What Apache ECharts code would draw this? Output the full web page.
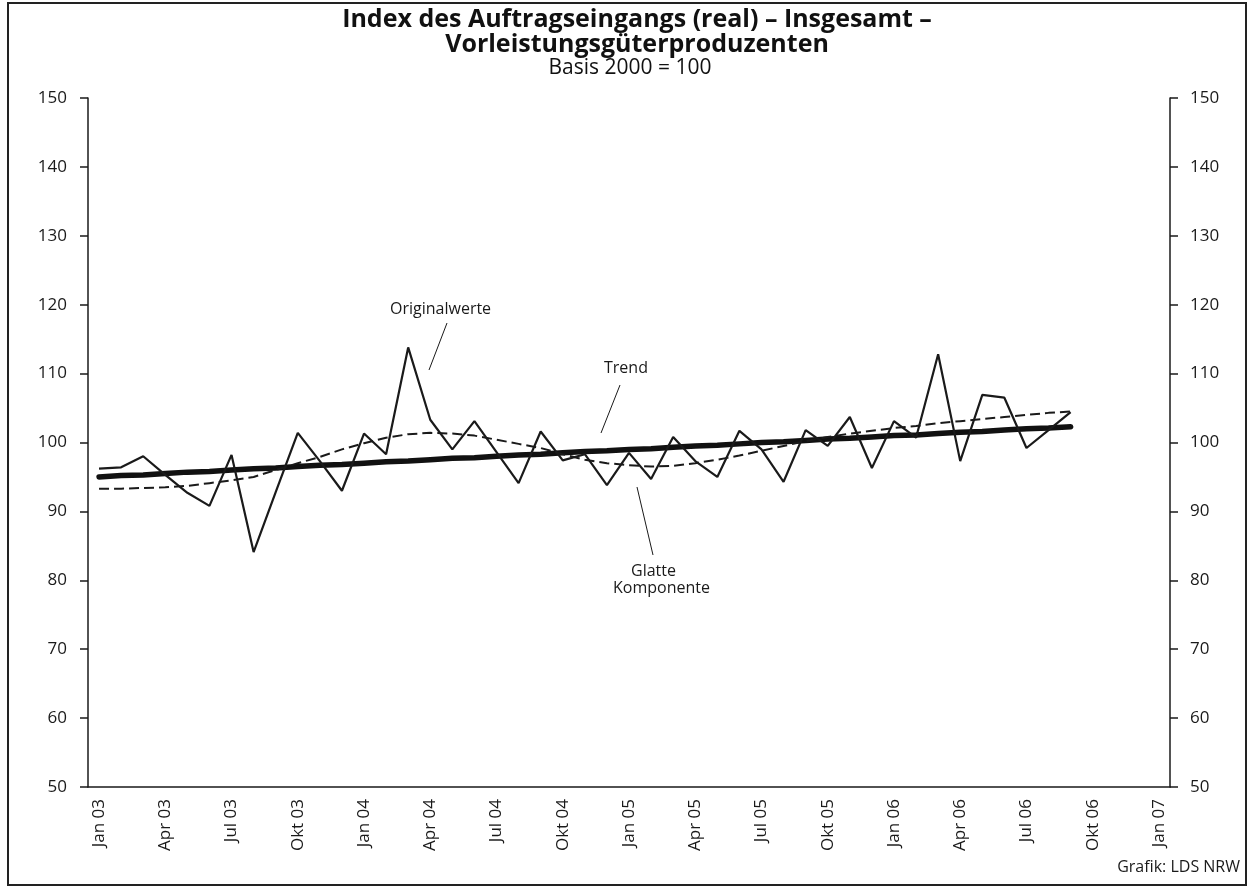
<!DOCTYPE html>
<html>
<head>
<meta charset="utf-8">
<script src="https://cdn.jsdelivr.net/npm/echarts@6/dist/echarts.min.js"></script>
<style>
html, body { margin: 0; padding: 0; background: #fff; }
#chart { width: 1254px; height: 896px; }
</style>
</head>
<body>
<div id="chart"></div>
<script>
// Monate Jan 03 .. Jan 07
const monthNames = ['Jan', 'Feb', 'Mär', 'Apr', 'Mai', 'Jun', 'Jul', 'Aug', 'Sep', 'Okt', 'Nov', 'Dez']
const years = ['03', '04', '05', '06', '07']
const categories = []
years.forEach(function (y, iy) {
    monthNames.forEach(function (m, im) {
        if (iy < 4 || im === 0) categories.push(m + ' ' + y)
    })
})

// Originalwerte (Jan 03 .. Sep 06)
const original = [
    96.2, 96.4, 98.0, 95.3, 92.7, 90.8, 98.2, 84.1, 92.8, 101.4, 97.3, 93.0,
    101.3, 98.3, 113.8, 103.3, 99.0, 103.1, 98.6, 94.1, 101.6, 97.4, 98.3, 93.8,
    98.5, 94.7, 100.8, 97.3, 95.0, 101.7, 99.0, 94.3, 101.8, 99.5, 103.7, 96.3,
    103.1, 100.7, 112.8, 97.3, 106.9, 106.5, 99.2, 101.8, 104.4
]

// Trend
const trend = [
    95.0, 95.2, 95.3, 95.5, 95.7, 95.8, 96.0, 96.2, 96.3, 96.5, 96.7, 96.8,
    97.0, 97.2, 97.3, 97.5, 97.7, 97.8, 98.0, 98.2, 98.3, 98.5, 98.7, 98.8,
    99.0, 99.1, 99.3, 99.5, 99.6, 99.8, 100.0, 100.1, 100.3, 100.5, 100.6, 100.8,
    101.0, 101.1, 101.3, 101.5, 101.6, 101.8, 102.0, 102.1, 102.3
]

// Glatte Komponente
const smooth = [
    93.3, 93.3, 93.4, 93.5, 93.7, 94.1, 94.5, 95.0, 96.0, 97.0, 97.9, 99.0,
    99.9, 100.7, 101.2, 101.4, 101.3, 101.0, 100.4, 99.8, 99.2, 98.3, 97.5, 97.0,
    96.7, 96.5, 96.6, 97.0, 97.5, 98.1, 98.8, 99.5, 100.2, 100.8, 101.3, 101.7,
    102.1, 102.4, 102.8, 103.1, 103.4, 103.7, 104.0, 104.3, 104.5
]

const yMin = 50, yMax = 150, yStep = 10
const fontFam = '"Open Sans", "Noto Sans", sans-serif'
const ink = '#1a1a1a'

const chart = echarts.init(document.getElementById('chart'))

function yAxisDef(pos) {
    return {
        type: 'value',
        position: pos,
        min: yMin,
        max: yMax,
        interval: yStep,
        axisLine: { show: true, lineStyle: { color: ink, width: 1.5 } },
        axisTick: { show: true, length: 8, lineStyle: { color: ink, width: 1.5 } },
        axisLabel: { color: ink, fontSize: 17, fontFamily: fontFam, margin: pos === 'left' ? 21 : 20 },
        splitLine: { show: false }
    }
}

const option = {
    animation: false,
    backgroundColor: '#fff',
    grid: { left: 88, right: 84, top: 98, bottom: 109 },
    xAxis: {
        type: 'category',
        data: categories,
        boundaryGap: true,
        axisLine: { lineStyle: { color: ink, width: 1.5 } },
        axisTick: { show: false },
        axisLabel: {
            interval: 2,
            rotate: 90,
            color: ink,
            fontSize: 17,
            fontFamily: fontFam,
            margin: 12
        },
        splitLine: { show: false }
    },
    yAxis: [yAxisDef('left'), yAxisDef('right')],
    series: [
        {
            name: 'Trend',
            type: 'line',
            data: trend,
            showSymbol: false,
            lineStyle: { color: '#111', width: 5.5, cap: 'round' }
        },
        {
            name: 'Glatte Komponente',
            type: 'line',
            data: smooth,
            showSymbol: false,
            lineStyle: { color: ink, width: 2, type: [10, 5] }
        },
        {
            name: 'Originalwerte',
            type: 'line',
            data: original,
            showSymbol: false,
            lineStyle: { color: ink, width: 2.2 }
        }
    ],
    graphic: [
        // Rahmen
        { type: 'rect', shape: { x: 8, y: 3, width: 1238, height: 882 },
          style: { fill: null, stroke: '#222', lineWidth: 2 } },
        // Titel
        { type: 'text', x: 637, y: 7,
          style: { text: 'Index des Auftragseingangs (real) – Insgesamt –',
                   font: 'bold 25px ' + fontFam, fill: '#111', align: 'center', verticalAlign: 'top' } },
        { type: 'text', x: 637, y: 32,
          style: { text: 'Vorleistungsgüterproduzenten',
                   font: 'bold 25px ' + fontFam, fill: '#111', align: 'center', verticalAlign: 'top' } },
        { type: 'text', x: 630, y: 58,
          style: { text: 'Basis 2000 = 100', font: '21px ' + fontFam, fill: '#111', align: 'center', verticalAlign: 'top' } },
        // Beschriftungen
        { type: 'text', left: 390, top: 301,
          style: { text: 'Originalwerte', font: '16px ' + fontFam, fill: ink } },
        { type: 'line', shape: { x1: 447, y1: 323, x2: 429, y2: 370 },
          style: { stroke: ink, lineWidth: 1 } },
        { type: 'text', left: 604, top: 360,
          style: { text: 'Trend', font: '16px ' + fontFam, fill: ink } },
        { type: 'line', shape: { x1: 620, y1: 385, x2: 601, y2: 433 },
          style: { stroke: ink, lineWidth: 1 } },
        { type: 'line', shape: { x1: 637, y1: 487, x2: 653, y2: 555 },
          style: { stroke: ink, lineWidth: 1 } },
        { type: 'text', left: 631, top: 563,
          style: { text: 'Glatte', font: '16px ' + fontFam, fill: ink } },
        { type: 'text', left: 613, top: 580,
          style: { text: 'Komponente', font: '16px ' + fontFam, fill: ink } },
        { type: 'text', right: 14, top: 859,
          style: { text: 'Grafik: LDS NRW', font: '16px ' + fontFam, fill: ink } }
    ]
}

chart.setOption(option)
</script>
</body>
</html>
